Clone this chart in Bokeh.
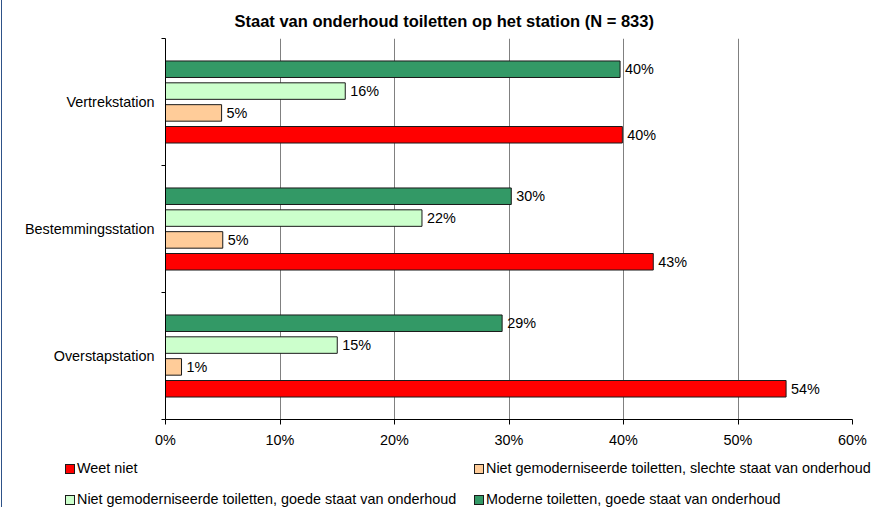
from bokeh.plotting import figure
from bokeh.layouts import column
from bokeh.models import (ColumnDataSource, FixedTicker, Title, LabelSet,
                          Range1d, Div, InlineStyleSheet)
from bokeh.core.properties import value
from bokeh.embed import file_html
from bokeh.resources import INLINE

# ---- data ----
stations = ["Vertrekstation", "Bestemmingsstation", "Overstapstation"]  # top to bottom
series_names = [
    "Weet niet",
    "Niet gemoderniseerde toiletten, slechte staat van onderhoud",
    "Niet gemoderniseerde toiletten, goede staat van onderhoud",
    "Moderne toiletten, goede staat van onderhoud",
]
weet_niet = [39.9, 42.6, 54.2]
slechte_staat = [4.9, 5.0, 1.4]
goede_staat_oud = [15.7, 22.4, 15.0]
moderne = [39.7, 30.2, 29.4]
series_values = [weet_niet, slechte_staat, goede_staat_oud, moderne]
series_colors = ["#FF0000", "#FFCC99", "#CCFFCC", "#339966"]
x_ticks = [0, 10, 20, 30, 40, 50, 60]
title_text = "Staat van onderhoud toiletten op het station (N = 833)"

# ---- layout / style ----
FONT = "Liberation Sans"
FS = "14.4px"
OUTLINE = "#1a1a1a"
n = len(stations)
offsets = [-0.258, -0.086, 0.086, 0.258]   # position of each series within a band
bar_h = 0.13

p = figure(width=885, height=450, output_backend="svg", toolbar_location=None,
           x_range=Range1d(0, 60), y_range=Range1d(0, n),
           min_border_left=165, min_border_right=33, min_border_top=37,
           min_border_bottom=30, outline_line_color=None,
           background_fill_color="white", border_fill_color="white")

for name, vals, col, off in zip(series_names, series_values, series_colors, offsets):
    ys = [n - 1 - i + 0.5 + off for i in range(n)]
    src = ColumnDataSource(dict(y=ys, v=vals, lab=[f"{round(v)}%" for v in vals]))
    p.hbar(y="y", left=0, right="v", height=bar_h, source=src,
           fill_color=col, line_color=OUTLINE, line_width=1)
    p.add_layout(LabelSet(x="v", y="y", text="lab", source=src, x_offset=5,
                          text_baseline="middle", text_align="left",
                          text_font=value(FONT), text_font_size=value(FS),
                          text_color="black"))

# axes
p.xaxis.ticker = FixedTicker(ticks=x_ticks)
p.xaxis.major_label_overrides = {t: f"{t}%" for t in x_ticks}
p.xaxis.major_tick_out = 5
p.xaxis.major_tick_in = 0
p.xaxis.minor_tick_line_color = None
p.xaxis.axis_line_color = "black"
p.xaxis.major_tick_line_color = "black"
p.xaxis.major_label_standoff = 7
p.xaxis.major_label_text_font = FONT
p.xaxis.major_label_text_font_size = FS
p.xaxis.major_label_text_color = "black"

centers = [n - 1 - i + 0.5 for i in range(n)]
p.yaxis.ticker = FixedTicker(ticks=centers, minor_ticks=list(range(n + 1)))
p.yaxis.major_label_overrides = {c: s for c, s in zip(centers, stations)}
p.yaxis.major_tick_out = 0
p.yaxis.major_tick_in = 0
p.yaxis.major_tick_line_color = None
p.yaxis.minor_tick_out = 4
p.yaxis.minor_tick_in = 0
p.yaxis.minor_tick_line_color = "black"
p.yaxis.axis_line_color = "black"
p.yaxis.major_label_standoff = 7
p.yaxis.major_label_text_font = FONT
p.yaxis.major_label_text_font_size = FS
p.yaxis.major_label_text_color = "black"

p.xgrid.ticker = FixedTicker(ticks=x_ticks)
p.xgrid.grid_line_color = "#808080"
p.xgrid.grid_line_width = 1
p.ygrid.grid_line_color = None

p.title = Title(text=title_text, align="left", offset=69, standoff=18,
                text_font=FONT, text_font_size="16.5px", text_font_style="bold",
                text_color="black")

# ---- legend (2 x 2) as a block of real text under the chart ----
legend_cells = [(65, 14), (474, 14), (65, 45), (474, 45)]  # left, top of each swatch
legend_order = [0, 1, 2, 3]  # Weet niet | slechte ; goede | moderne
parts = []
for k, (lx, ty) in zip(legend_order, legend_cells):
    parts.append(
        f'<span style="position:absolute;left:{lx}px;top:{ty}px;width:10px;height:10px;'
        f'box-sizing:border-box;border:1px solid {OUTLINE};background:{series_colors[k]};"></span>'
        f'<span style="position:absolute;left:{lx + 12}px;top:{ty - 4}px;line-height:17px;'
        f'white-space:nowrap;color:black;">{series_names[k]}</span>')
legend_html = (f'<div style="position:relative;width:885px;height:57px;'
               f'font-family:\'{FONT}\';font-size:{FS};">' + "".join(parts) + '</div>')
legend_div = Div(text=legend_html, width=885, height=57, margin=0)

# thin dark-blue frame line on the left edge of the chart area
edge_css = InlineStyleSheet(css="""
:host { position: relative; }
:host::before { content: ''; position: absolute; left: 1px; top: 0; width: 1px;
                height: 100%; background: #2E5288; z-index: 10; }
""")

layout = column(p, legend_div, spacing=0, stylesheets=[edge_css])
open("out.html", "w").write(file_html(layout, INLINE))
